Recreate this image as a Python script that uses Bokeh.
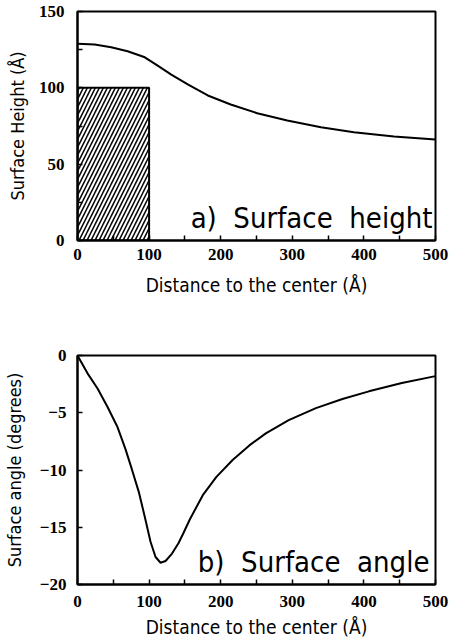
from bokeh.plotting import figure
from bokeh.layouts import column
from bokeh.models import Range1d, FixedTicker, Label
from bokeh.embed import file_html
from bokeh.resources import INLINE

# ---- data ----
x_height = [0, 24, 47, 70, 94, 112, 131, 154, 182, 214, 251, 293, 340, 386, 442, 500]
y_height = [128.8, 128.4, 126.6, 124.0, 120.0, 114.6, 108.7, 102.2, 95.0, 89.1, 83.4, 78.6, 74.2, 70.9, 68.1, 66.1]

bar_left = [0]
bar_right = [100]
bar_bottom = [0]
bar_top = [100]

x_angle = [0, 14, 28, 42, 56, 67, 76, 86, 95, 102, 109, 116, 123, 132, 141, 148, 157, 175, 194, 217,
           240, 263, 295, 333, 370, 407, 453, 500]
y_angle = [0.0, -1.56, -2.88, -4.5, -6.27, -8.18, -9.95, -12.0, -14.36, -16.27, -17.6, -18.1, -17.95,
           -17.3, -16.4, -15.5, -14.3, -12.2, -10.6, -9.1, -7.85, -6.8, -5.65, -4.6, -3.8, -3.13, -2.4, -1.8]

x_ticks = [0, 100, 200, 300, 400, 500]
x_minor = [50, 150, 250, 350, 450]
yh_ticks = [0, 50, 100, 150]
yh_minor = [25, 75, 125]
ya_ticks = [-20, -15, -10, -5, 0]

XLABEL = "Distance to the center (Å)"
YLABEL_A = "Surface Height (Å)"
YLABEL_B = "Surface angle (degrees)"
TITLE_A = "a)\u00a0 Surface\u00a0 height"
TITLE_B = "b)\u00a0 Surface\u00a0 angle"

LABEL_FONT = "DejaVu Sans Condensed"
TICK_FONT = "Liberation Sans Narrow"


def style(p, xt, xm, yt, ym, xl_standoff, xa_standoff, yl_standoff, ya_standoff):
    p.xgrid.visible = False
    p.ygrid.visible = False
    p.outline_line_color = "black"
    p.outline_line_width = 2
    p.background_fill_color = "white"
    p.border_fill_color = "white"
    for ax, t, m in ((p.xaxis[0], xt, xm), (p.yaxis[0], yt, ym)):
        ax.ticker = FixedTicker(ticks=t, minor_ticks=m)
        ax.axis_line_width = 2
        ax.axis_line_color = "black"
        ax.major_tick_in = 5
        ax.major_tick_out = 0
        ax.minor_tick_in = 5
        ax.minor_tick_out = 0
        ax.major_tick_line_width = 1.5
        ax.minor_tick_line_width = 1.5
        ax.major_label_text_font = TICK_FONT
        ax.major_label_text_font_style = "bold"
        ax.major_label_text_font_size = "17px"
        ax.major_label_text_color = "black"
        ax.axis_label_text_font = LABEL_FONT
        ax.axis_label_text_font_style = "normal"
        ax.axis_label_text_color = "black"
    p.xaxis.major_label_standoff = xl_standoff
    p.xaxis.axis_label_standoff = xa_standoff
    p.yaxis.major_label_standoff = yl_standoff
    p.yaxis.axis_label_standoff = ya_standoff
    p.xaxis.axis_label_text_font_size = "19px"
    p.yaxis.axis_label_text_font_size = "18px"


# ---- top: surface height ----
p1 = figure(width=449, height=320, output_backend="svg", toolbar_location=None,
            x_range=Range1d(0, 500), y_range=Range1d(0, 150),
            min_border_left=74, min_border_right=14, min_border_top=11, min_border_bottom=80,
            x_axis_label=XLABEL, y_axis_label=YLABEL_A)
style(p1, x_ticks, x_minor, yh_ticks, yh_minor, 8, 11, 13, 8)

p1.quad(left=bar_left, right=bar_right, bottom=bar_bottom, top=bar_top,
        fill_alpha=0, line_color="black", line_width=2,
        hatch_pattern="/", hatch_scale=8, hatch_weight=1.5, hatch_color="black")
p1.line(x_height, y_height, line_color="black", line_width=2)
p1.add_layout(Label(x=158, y=15, text=TITLE_A, text_align="left", text_baseline="alphabetic",
                    text_font=LABEL_FONT, text_font_size="29px", text_color="black"))

# ---- bottom: surface angle ----
p2 = figure(width=449, height=321, output_backend="svg", toolbar_location=None,
            x_range=Range1d(0, 500), y_range=Range1d(-20, 0),
            min_border_left=77, min_border_right=12, min_border_top=35, min_border_bottom=57,
            x_axis_label=XLABEL, y_axis_label=YLABEL_B)
style(p2, x_ticks, x_minor, ya_ticks, [], 11, 6, 11, 12)

p2.line(x_angle, y_angle, line_color="black", line_width=2)
p2.add_layout(Label(x=168, y=-18.0, text=TITLE_B, text_align="left", text_baseline="alphabetic",
                    text_font=LABEL_FONT, text_font_size="29px", text_color="black"))

layout = column(p1, p2, spacing=0)
open("out.html", "w").write(file_html(layout, INLINE))
